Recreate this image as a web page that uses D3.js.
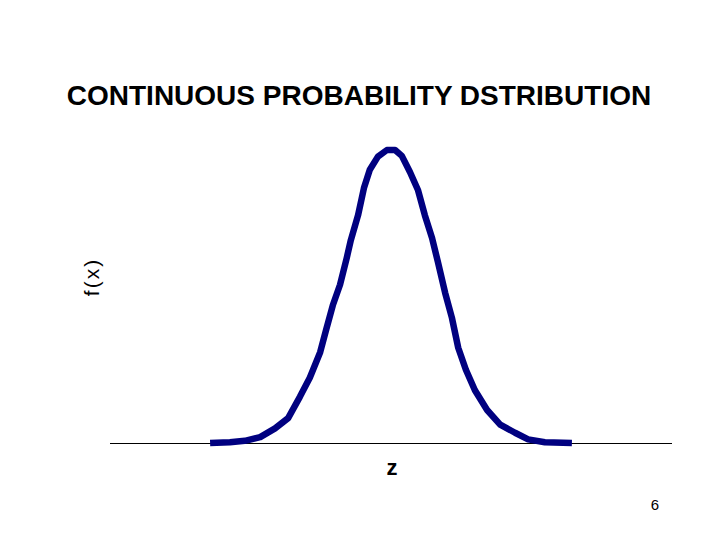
<!DOCTYPE html>
<html><head><meta charset="utf-8">
<script src="https://cdn.jsdelivr.net/npm/d3@7"></script>
<style>body{margin:0;background:#fff}</style>
</head><body>
<script>
const zValues = [-4.01,-3.57,-3.24,-2.90,-2.57,-2.28,-2.02,-1.80,-1.57,-1.44,-1.29,-1.13,-0.98,-0.89,-0.73,-0.60,-0.47,-0.29,-0.09,0.09,0.24,0.42,0.60,0.75,0.91,1.04,1.20,1.35,1.49,1.66,1.86,2.13,2.42,2.75,3.04,3.41,4.01];
const fValues = [0,0.001,0.003,0.008,0.020,0.034,0.063,0.089,0.124,0.154,0.188,0.216,0.253,0.277,0.311,0.348,0.373,0.391,0.400,0.400,0.392,0.370,0.345,0.311,0.280,0.247,0.205,0.171,0.130,0.100,0.072,0.045,0.025,0.014,0.005,0.001,0];
const titleText = "CONTINUOUS PROBABILITY DSTRIBUTION";
const xLabel = "z";
const yLabel = "f(x)";
const pageNumber = "6";

const W = 720, H = 540;
const svg = d3.select("body").append("svg").attr("width", W).attr("height", H);
const x = d3.scaleLinear().domain([-4.5, 4.5]).range([188, 594]);
const y = d3.scaleLinear().domain([0, 0.4]).range([443, 150]);

svg.append("line").attr("x1", 110).attr("x2", 672).attr("y1", 443.5).attr("y2", 443.5)
  .attr("stroke", "#000").attr("stroke-width", 1).attr("shape-rendering", "crispEdges");

const pts = zValues.map((z, i) => [z, fValues[i]]);
svg.append("path").datum(pts)
  .attr("d", d3.line().x(d => x(d[0])).y(d => y(d[1])))
  .attr("fill", "none").attr("stroke", "#000080").attr("stroke-width", 6.5)
  .attr("stroke-linejoin", "round").attr("stroke-linecap", "butt");

svg.append("text").attr("x", 359).attr("y", 105).attr("text-anchor", "middle")
  .attr("font-family", "Liberation Sans, Arial, sans-serif").attr("font-weight", "bold")
  .attr("font-size", 28).text(titleText);

svg.append("text").attr("transform", "translate(99,277) rotate(-90)").attr("text-anchor", "middle")
  .attr("font-family", "Liberation Sans, Arial, sans-serif")
  .attr("font-size", 21).attr("letter-spacing", 2).text(yLabel);

svg.append("text").attr("x", 392).attr("y", 475).attr("text-anchor", "middle")
  .attr("font-family", "Liberation Sans, Arial, sans-serif").attr("font-weight", "bold")
  .attr("font-size", 22).text(xLabel);

svg.append("text").attr("x", 655).attr("y", 510).attr("text-anchor", "middle")
  .attr("font-family", "Liberation Sans, Arial, sans-serif")
  .attr("font-size", 15).text(pageNumber);
</script>
</body></html>
